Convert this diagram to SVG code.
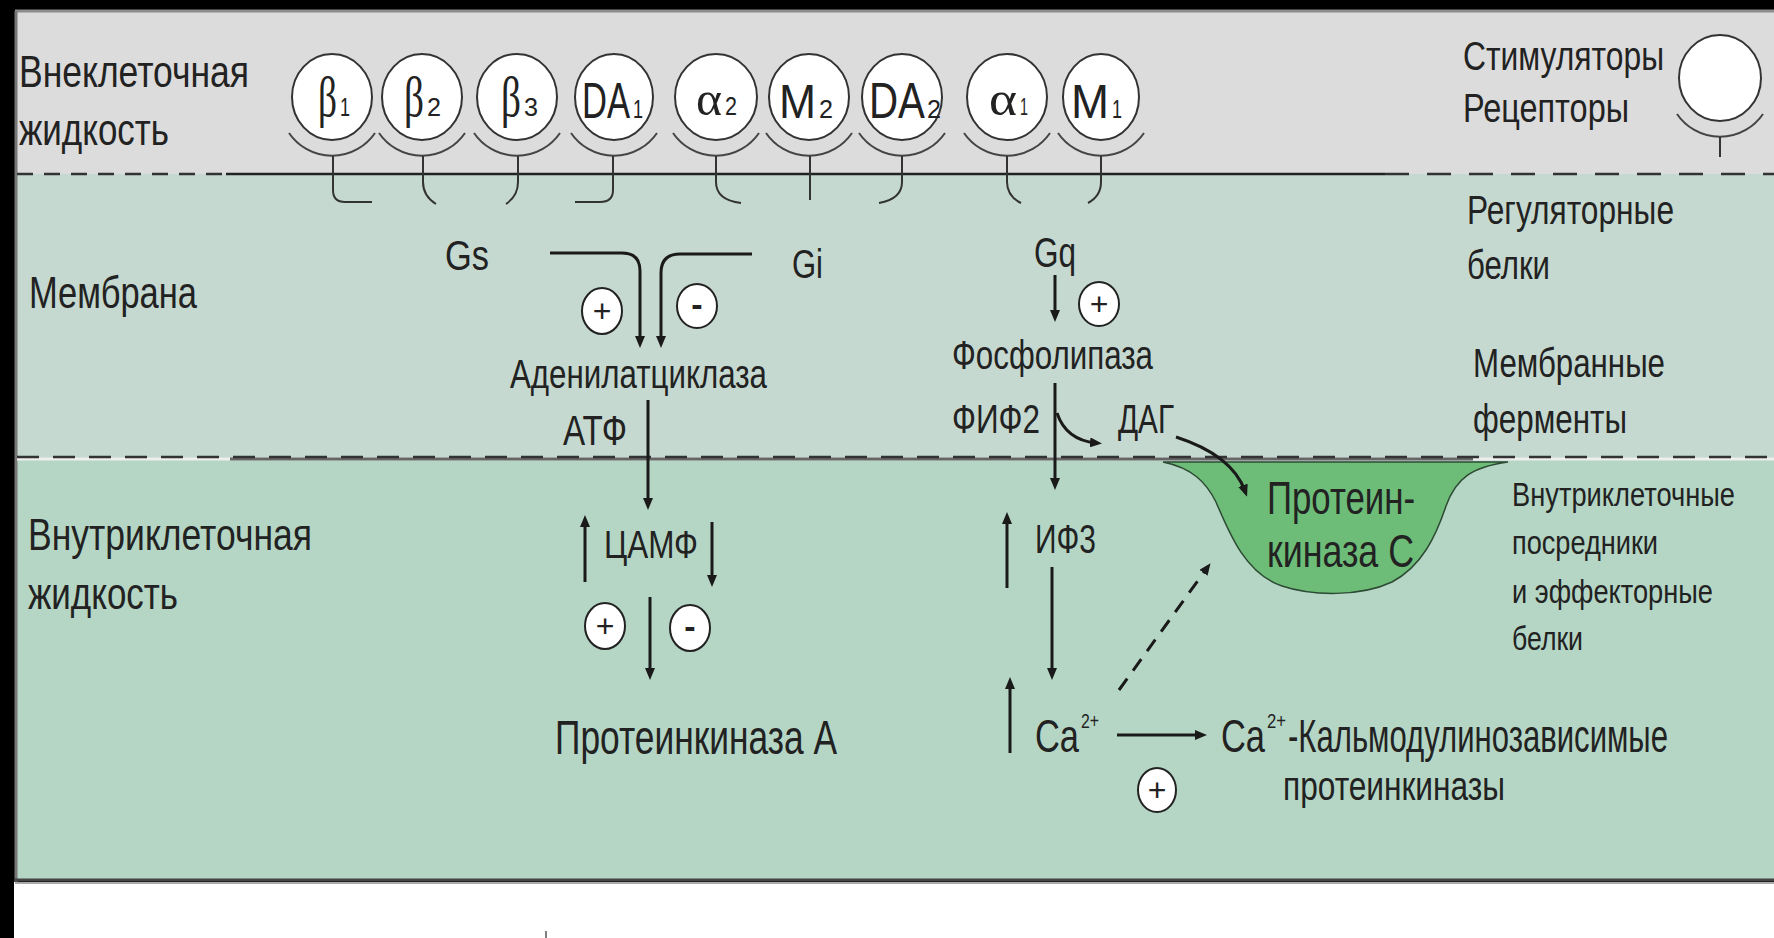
<svg xmlns="http://www.w3.org/2000/svg" width="1774" height="938" viewBox="0 0 1774 938">
<defs>
<style>
.t{font-family:"Liberation Sans","DejaVu Sans",sans-serif;fill:#222;}
.g{font-family:"Liberation Serif","DejaVu Serif",serif;fill:#222;}
.rc{fill:#fff;stroke:#333;stroke-width:2}
.cup{fill:none;stroke:#444;stroke-width:2}
.stem{fill:none;stroke:#333;stroke-width:2}
.sg{fill:#fff;stroke:#222;stroke-width:2}
.ar{fill:none;stroke:#1a1a1a;stroke-width:3;marker-end:url(#ah)}
</style>
<marker id="ah" viewBox="0 0 12 10" refX="6" refY="5" markerWidth="12" markerHeight="10" markerUnits="userSpaceOnUse" orient="auto"><path d="M0,0 L12,5 L0,10 z" fill="#1a1a1a"/></marker>
</defs>

<g id="background">
<rect x="0" y="0" width="1774" height="938" fill="#000"/>
<rect x="14" y="882" width="1760" height="56" fill="#fff"/>
<rect x="15" y="11" width="1759" height="163" fill="#dcdcdc"/>
<rect x="15" y="174" width="1759" height="284" fill="#c6d9d0"/>
<rect x="15" y="458" width="1759" height="422" fill="#b5d6c5"/>
<line x1="15" y1="11" x2="1774" y2="11" stroke="#8c8c8c" stroke-width="3"/>
<line x1="16" y1="11" x2="16" y2="882" stroke="#777" stroke-width="3"/>
<line x1="15" y1="880" x2="1774" y2="880" stroke="#444" stroke-width="3"/>
<line x1="15" y1="883" x2="1774" y2="883" stroke="#aaa" stroke-width="2"/>
<line x1="546" y1="931" x2="546" y2="938" stroke="#555" stroke-width="1.5"/>
</g>

<g id="membrane-lines">
<line x1="17" y1="174" x2="226" y2="174" stroke="#333" stroke-width="2.5" stroke-dasharray="16 11"/>
<line x1="226" y1="174" x2="1385" y2="174" stroke="#222" stroke-width="2.5"/>
<line x1="1385" y1="174" x2="1774" y2="174" stroke="#333" stroke-width="2.5" stroke-dasharray="24 18"/>
<line x1="17" y1="459" x2="1774" y2="459" stroke="#eee" stroke-width="3"/>
<line x1="230" y1="459" x2="1473" y2="459" stroke="#666" stroke-width="3"/>
<line x1="17" y1="457" x2="1774" y2="457" stroke="#333" stroke-width="2.5" stroke-dasharray="22 14"/>
</g>

<g id="region-labels">
<text class="t" x="19" y="87" font-size="44" textLength="230" lengthAdjust="spacingAndGlyphs">Внеклеточная</text>
<text class="t" x="19" y="145" font-size="44" textLength="150" lengthAdjust="spacingAndGlyphs">жидкость</text>
<text class="t" x="29" y="308" font-size="44" textLength="168" lengthAdjust="spacingAndGlyphs">Мембрана</text>
<text class="t" x="28" y="550" font-size="44" textLength="284" lengthAdjust="spacingAndGlyphs">Внутриклеточная</text>
<text class="t" x="28" y="609" font-size="44" textLength="150" lengthAdjust="spacingAndGlyphs">жидкость</text>
</g>

<g id="legend">
<text class="t" x="1463" y="70" font-size="40" textLength="201" lengthAdjust="spacingAndGlyphs">Стимуляторы</text>
<text class="t" x="1463" y="122" font-size="40" textLength="166" lengthAdjust="spacingAndGlyphs">Рецепторы</text>
<ellipse class="rc" cx="1720" cy="78" rx="41" ry="43"/>
<path class="cup" d="M1677 114 A52 52 0 0 0 1763 114"/>
<path class="stem" d="M1720 137 V157"/>
<text class="t" x="1467" y="224" font-size="40" textLength="207" lengthAdjust="spacingAndGlyphs">Регуляторные</text>
<text class="t" x="1467" y="279" font-size="40" textLength="83" lengthAdjust="spacingAndGlyphs">белки</text>
<text class="t" x="1473" y="377" font-size="40" textLength="192" lengthAdjust="spacingAndGlyphs">Мембранные</text>
<text class="t" x="1473" y="433" font-size="40" textLength="154" lengthAdjust="spacingAndGlyphs">ферменты</text>
<text class="t" x="1512" y="506" font-size="34" textLength="223" lengthAdjust="spacingAndGlyphs">Внутриклеточные</text>
<text class="t" x="1512" y="554" font-size="34" textLength="146" lengthAdjust="spacingAndGlyphs">посредники</text>
<text class="t" x="1512" y="603" font-size="34" textLength="201" lengthAdjust="spacingAndGlyphs">и эффекторные</text>
<text class="t" x="1512" y="650" font-size="34" textLength="71" lengthAdjust="spacingAndGlyphs">белки</text>
</g>

<g id="receptor-b1">
<ellipse class="rc" cx="332" cy="97" rx="40" ry="43"/>
<path class="cup" d="M289 133 A52 52 0 0 0 375 133"/>
<path class="stem" d="M333 156 V190 Q333 202 345 202 H372"/>
<text class="g" x="318" y="116" font-size="56" textLength="19" lengthAdjust="spacingAndGlyphs">β</text>
<text class="t" x="340" y="116" font-size="26" textLength="10" lengthAdjust="spacingAndGlyphs">1</text>
</g>
<g id="receptor-b2">
<ellipse class="rc" cx="422" cy="97" rx="40" ry="43"/>
<path class="cup" d="M379 133 A52 52 0 0 0 465 133"/>
<path class="stem" d="M423 156 V182 Q423 196 436 204"/>
<text class="g" x="404" y="116" font-size="56" textLength="20" lengthAdjust="spacingAndGlyphs">β</text>
<text class="t" x="427" y="116" font-size="26" textLength="14" lengthAdjust="spacingAndGlyphs">2</text>
</g>
<g id="receptor-b3">
<ellipse class="rc" cx="517" cy="97" rx="40" ry="43"/>
<path class="cup" d="M474 133 A52 52 0 0 0 560 133"/>
<path class="stem" d="M518 156 V182 Q518 196 506 204"/>
<text class="g" x="501" y="116" font-size="56" textLength="20" lengthAdjust="spacingAndGlyphs">β</text>
<text class="t" x="524" y="116" font-size="26" textLength="14" lengthAdjust="spacingAndGlyphs">3</text>
</g>
<g id="receptor-da1">
<ellipse class="rc" cx="614" cy="97" rx="39" ry="43"/>
<path class="cup" d="M571 133 A52 52 0 0 0 657 133"/>
<path class="stem" d="M613 156 V190 Q613 202 600 202 H575"/>
<text class="t" x="582" y="118" font-size="50" textLength="48" lengthAdjust="spacingAndGlyphs">DA</text>
<text class="t" x="633" y="118" font-size="26" textLength="10" lengthAdjust="spacingAndGlyphs">1</text>
</g>
<g id="receptor-a2">
<ellipse class="rc" cx="716" cy="97" rx="41" ry="43"/>
<path class="cup" d="M673 133 A52 52 0 0 0 759 133"/>
<path class="stem" d="M716 156 V182 Q716 200 741 203"/>
<text class="g" x="696" y="115" font-size="48" textLength="26" lengthAdjust="spacingAndGlyphs">α</text>
<text class="t" x="725" y="115" font-size="26" textLength="12" lengthAdjust="spacingAndGlyphs">2</text>
</g>
<g id="receptor-m2">
<ellipse class="rc" cx="809" cy="97" rx="40" ry="43"/>
<path class="cup" d="M766 133 A52 52 0 0 0 852 133"/>
<path class="stem" d="M810 156 V200"/>
<text class="t" x="779" y="118" font-size="48" textLength="37" lengthAdjust="spacingAndGlyphs">M</text>
<text class="t" x="819" y="118" font-size="26" textLength="14" lengthAdjust="spacingAndGlyphs">2</text>
</g>
<g id="receptor-da2">
<ellipse class="rc" cx="902" cy="97" rx="40" ry="43"/>
<path class="cup" d="M859 133 A52 52 0 0 0 945 133"/>
<path class="stem" d="M902 156 V182 Q902 199 879 203"/>
<text class="t" x="869" y="118" font-size="50" textLength="56" lengthAdjust="spacingAndGlyphs">DA</text>
<text class="t" x="927" y="118" font-size="26" textLength="14" lengthAdjust="spacingAndGlyphs">2</text>
</g>
<g id="receptor-a1">
<ellipse class="rc" cx="1007" cy="97" rx="40" ry="43"/>
<path class="cup" d="M964 133 A52 52 0 0 0 1050 133"/>
<path class="stem" d="M1007 156 V182 Q1007 196 1021 203"/>
<text class="g" x="989" y="115" font-size="48" textLength="28" lengthAdjust="spacingAndGlyphs">α</text>
<text class="t" x="1020" y="115" font-size="24" textLength="8" lengthAdjust="spacingAndGlyphs">1</text>
</g>
<g id="receptor-m1">
<ellipse class="rc" cx="1101" cy="97" rx="38" ry="43"/>
<path class="cup" d="M1058 133 A52 52 0 0 0 1144 133"/>
<path class="stem" d="M1101 156 V182 Q1101 196 1088 203"/>
<text class="t" x="1071" y="118" font-size="48" textLength="38" lengthAdjust="spacingAndGlyphs">M</text>
<text class="t" x="1112" y="118" font-size="26" textLength="10" lengthAdjust="spacingAndGlyphs">1</text>
</g>

<g id="pkc">
<path d="M1163 462 C1192 468 1206 482 1216 502 C1230 535 1246 574 1282 586 C1312 596 1360 597 1392 582 C1422 566 1436 536 1446 506 C1456 478 1472 467 1508 462 Z" fill="#6dbc78" stroke="#2d4a33" stroke-width="1.5"/>
<text class="t" x="1267" y="514" font-size="46" textLength="148" lengthAdjust="spacingAndGlyphs">Протеин-</text>
<text class="t" x="1267" y="567" font-size="46" textLength="147" lengthAdjust="spacingAndGlyphs">киназа С</text>
</g>

<g id="nodes">
<text class="t" x="445" y="270" font-size="42" textLength="44" lengthAdjust="spacingAndGlyphs">Gs</text>
<text class="t" x="792" y="278" font-size="40" textLength="31" lengthAdjust="spacingAndGlyphs">Gi</text>
<text class="t" x="1034" y="267" font-size="42" textLength="42" lengthAdjust="spacingAndGlyphs">Gq</text>
<text class="t" x="510" y="388" font-size="40" textLength="257" lengthAdjust="spacingAndGlyphs">Аденилатциклаза</text>
<text class="t" x="563" y="445" font-size="42" textLength="64" lengthAdjust="spacingAndGlyphs">АТФ</text>
<text class="t" x="952" y="369" font-size="40" textLength="201" lengthAdjust="spacingAndGlyphs">Фосфолипаза</text>
<text class="t" x="952" y="433" font-size="40" textLength="88" lengthAdjust="spacingAndGlyphs">ФИФ2</text>
<text class="t" x="1118" y="433" font-size="40" textLength="56" lengthAdjust="spacingAndGlyphs">ДАГ</text>
<text class="t" x="604" y="558" font-size="38" textLength="94" lengthAdjust="spacingAndGlyphs">ЦАМФ</text>
<text class="t" x="555" y="754" font-size="49" textLength="282" lengthAdjust="spacingAndGlyphs">Протеинкиназа А</text>
<text class="t" x="1035" y="553" font-size="40" textLength="61" lengthAdjust="spacingAndGlyphs">ИФ3</text>
<text class="t" x="1035" y="752" font-size="46" textLength="44" lengthAdjust="spacingAndGlyphs">Ca</text>
<text class="t" x="1081" y="728" font-size="20" textLength="18" lengthAdjust="spacingAndGlyphs">2+</text>
<text class="t" x="1221" y="752" font-size="46" textLength="44" lengthAdjust="spacingAndGlyphs">Ca</text>
<text class="t" x="1267" y="728" font-size="20" textLength="19" lengthAdjust="spacingAndGlyphs">2+</text>
<text class="t" x="1288" y="752" font-size="46" textLength="380" lengthAdjust="spacingAndGlyphs">-Кальмодулинозависимые</text>
<text class="t" x="1283" y="800" font-size="40" textLength="222" lengthAdjust="spacingAndGlyphs">протеинкиназы</text>
</g>

<g id="signs">
<ellipse class="sg" cx="602" cy="311" rx="20" ry="23"/><text class="t" x="602" y="322" font-size="32" text-anchor="middle">+</text>
<ellipse class="sg" cx="697" cy="306" rx="20" ry="22"/><text class="t" x="697" y="316" font-size="34" font-weight="bold" text-anchor="middle">-</text>
<ellipse class="sg" cx="1099" cy="304" rx="20" ry="22"/><text class="t" x="1099" y="315" font-size="32" text-anchor="middle">+</text>
<ellipse class="sg" cx="605" cy="626" rx="20" ry="23"/><text class="t" x="605" y="637" font-size="32" text-anchor="middle">+</text>
<ellipse class="sg" cx="690" cy="628" rx="20" ry="23"/><text class="t" x="690" y="638" font-size="34" font-weight="bold" text-anchor="middle">-</text>
<ellipse class="sg" cx="1157" cy="790" rx="19" ry="22"/><text class="t" x="1157" y="801" font-size="32" text-anchor="middle">+</text>
</g>

<g id="connectors">
<path class="ar" stroke-width="4" d="M550 253 H622 Q640 253 640 271 V342"/>
<path class="ar" stroke-width="4" d="M752 254 H680 Q661 254 661 273 V342"/>
<path class="ar" d="M648 400 V504"/>
<path class="ar" d="M585 582 V521"/>
<path class="ar" d="M712 522 V581"/>
<path class="ar" d="M650 597 V674"/>
<path class="ar" d="M1055 275 V316"/>
<path class="ar" d="M1055 383 V484"/>
<path class="ar" d="M1057 413 Q1066 440 1096 443"/>
<path class="ar" d="M1176 437 Q1232 455 1245 491"/>
<path class="ar" d="M1007 588 V518"/>
<path class="ar" d="M1052 567 V674"/>
<path class="ar" d="M1010 753 V683"/>
<path class="ar" stroke-width="4" d="M1117 735 H1201"/>
<path class="ar" stroke-dasharray="14 10" d="M1119 690 L1207 568"/>
</g>
</svg>
